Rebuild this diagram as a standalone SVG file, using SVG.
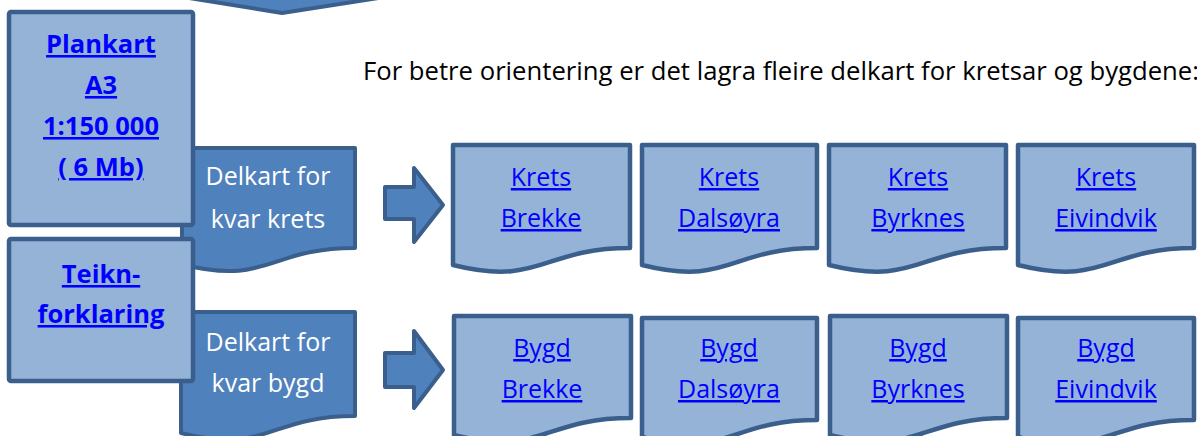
<svg xmlns="http://www.w3.org/2000/svg" width="1197" height="436" viewBox="0 0 1197 436">
<defs>
<style>
.light{fill:#95b3d7;stroke:#3b5f8d;stroke-width:4.5;stroke-linejoin:round}
.dark{fill:#4f81bd;stroke:#3b5f8d;stroke-width:4;stroke-linejoin:round}
.link{font-family:"Open Sans","Noto Sans",sans-serif;font-size:25px;fill:#0000ff;text-decoration:underline;text-anchor:middle}
.bold{font-weight:bold;font-size:25.5px}
.white{font-family:"Open Sans","Noto Sans",sans-serif;font-size:25px;fill:#ffffff;text-anchor:middle}
.plain{font-family:"Open Sans","Noto Sans",sans-serif;font-size:25px;fill:#000000}
</style>
</defs>
<rect width="1197" height="436" fill="#ffffff"/>

<g id="connectors">
<polygon class="dark" points="152,-8 282,13 417,-8"/>
<polygon class="dark" points="385,187 414,187 414,168 443,205 414,242 414,219 385,219"/>
<polygon class="dark" points="385,353 414,353 414,331 443,370 414,408 414,387 385,387"/>
</g>

<g id="delkart-krets">
<path class="dark" d="M182,148 H355 V248 C268.5,248 268.5,286 182,264.5 Z"/>
<text class="white" x="268" y="185">Delkart for</text>
<text class="white" x="268" y="228">kvar krets</text>
</g>

<g id="delkart-bygd">
<path class="dark" d="M181,312 H355 V416 C268,416 268,455 181,433 Z"/>
<text class="white" x="268" y="351">Delkart for</text>
<text class="white" x="268" y="392">kvar bygd</text>
</g>

<g id="plankart">
<rect class="light" x="9" y="12" width="184" height="213" rx="2"/>
<text class="link bold" x="101" y="53">Plankart</text>
<text class="link bold" x="101" y="94">A3</text>
<text class="link bold" x="101" y="135">1:150 000</text>
<text class="link bold" x="101" y="176">( 6 Mb)</text>
</g>

<g id="teiknforklaring">
<rect class="light" x="9" y="239" width="184" height="142" rx="2"/>
<text class="link bold" x="101" y="283">Teikn-</text>
<text class="link bold" x="101" y="323">forklaring</text>
</g>

<g id="intro-text">
<text class="plain" x="363" y="80" textLength="836" lengthAdjust="spacingAndGlyphs">For betre orientering er det lagra fleire delkart for kretsar og bygdene:</text>
</g>

<g id="krets-brekke">
<path class="light" d="M453,145 H630 V248 C541.5,248 541.5,287 453,265 Z"/>
<text class="link" x="541" y="186">Krets</text>
<text class="link" x="541" y="227">Brekke</text>
</g>
<g id="krets-dalsoyra">
<path class="light" d="M642,145 H817 V248 C729.5,248 729.5,287 642,265 Z"/>
<text class="link" x="729" y="186">Krets</text>
<text class="link" x="729" y="227">Dalsøyra</text>
</g>
<g id="krets-byrknes">
<path class="light" d="M829,145 H1006 V248 C917.5,248 917.5,287 829,265 Z"/>
<text class="link" x="918" y="186">Krets</text>
<text class="link" x="918" y="227">Byrknes</text>
</g>
<g id="krets-eivindvik">
<path class="light" d="M1018,145 H1194 V248 C1106,248 1106,287 1018,265 Z"/>
<text class="link" x="1106" y="186">Krets</text>
<text class="link" x="1106" y="227">Eivindvik</text>
</g>

<g id="bygd-brekke">
<path class="light" d="M454,316 H631 V418 C542.5,418 542.5,457 454,435 Z"/>
<text class="link" x="542" y="357">Bygd</text>
<text class="link" x="542" y="398">Brekke</text>
</g>
<g id="bygd-dalsoyra">
<path class="light" d="M642,318 H817 V420 C729.5,420 729.5,459 642,437 Z"/>
<text class="link" x="729" y="357">Bygd</text>
<text class="link" x="729" y="398">Dalsøyra</text>
</g>
<g id="bygd-byrknes">
<path class="light" d="M830,316 H1007 V418 C918.5,418 918.5,457 830,435 Z"/>
<text class="link" x="918" y="357">Bygd</text>
<text class="link" x="918" y="398">Byrknes</text>
</g>
<g id="bygd-eivindvik">
<path class="light" d="M1018,318 H1194 V420 C1106,420 1106,459 1018,437 Z"/>
<text class="link" x="1106" y="357">Bygd</text>
<text class="link" x="1106" y="398">Eivindvik</text>
</g>
</svg>
